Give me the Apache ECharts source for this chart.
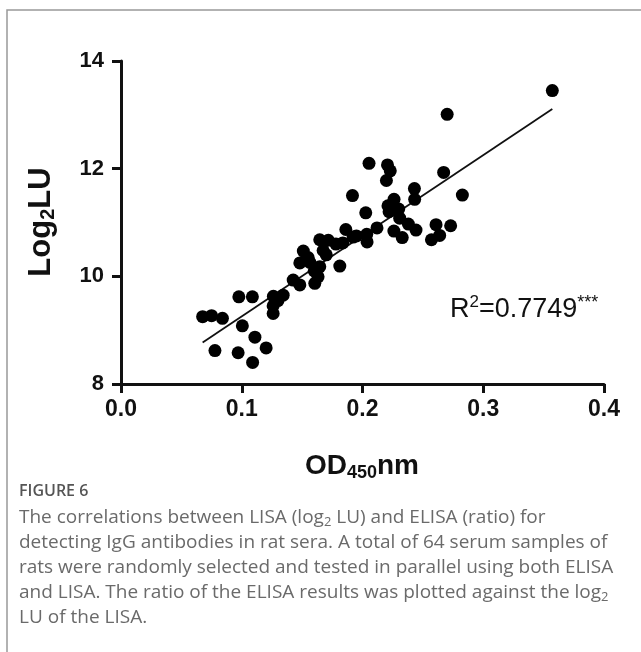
<!DOCTYPE html>
<html>
<head>
<meta charset="utf-8">
<script src="https://cdn.jsdelivr.net/npm/echarts@6/dist/echarts.min.js"></script>
<style>
  html, body { margin: 0; padding: 0; background: #fff; }
  #chart { width: 641px; height: 652px; }
</style>
</head>
<body>
<div id="chart"></div>
<script>
// OD450 (ELISA ratio)
const odValues = [
  0.0676, 0.0750, 0.0840, 0.0976, 0.1088, 0.1005, 0.1109, 0.1202, 0.0778, 0.0970,
  0.1090, 0.1262, 0.1343, 0.1260, 0.1260, 0.1426, 0.1481, 0.1605, 0.1510, 0.1481,
  0.1564, 0.1646, 0.1632, 0.1646, 0.1717, 0.1674, 0.1812, 0.1862, 0.1837, 0.1922,
  0.1917, 0.2027, 0.2035, 0.2038, 0.2054, 0.2207, 0.2230, 0.2198, 0.2672, 0.2701,
  0.3572, 0.2430, 0.2432, 0.2827, 0.2261, 0.2211, 0.2220, 0.2308, 0.2380, 0.2443,
  0.2260, 0.2329, 0.2609, 0.2730, 0.2639, 0.2571, 0.1550, 0.1700, 0.1600, 0.1780,
  0.2300, 0.1300, 0.2120, 0.1950
]
// log2 LU (LISA)
const luValues = [
  9.25, 9.27, 9.22, 9.62, 9.62, 9.08, 8.87, 8.67, 8.62, 8.58,
  8.40, 9.63, 9.65, 9.45, 9.31, 9.93, 9.84, 9.87, 10.47, 10.25,
  10.26, 10.18, 9.99, 10.68, 10.67, 10.48, 10.19, 10.87, 10.62, 10.73,
  11.50, 11.18, 10.78, 10.64, 12.10, 12.07, 11.96, 11.78, 11.93, 13.01,
  13.45, 11.63, 11.43, 11.51, 11.43, 11.31, 11.20, 11.08, 10.97, 10.86,
  10.84, 10.72, 10.96, 10.94, 10.76, 10.68, 10.35, 10.40, 10.10, 10.60,
  11.25, 9.55, 10.90, 10.75
]
// regression line ends
const fitX = [0.0676, 0.3572]
const fitY = [8.77, 13.11]

const xTicks = ['0.0', '0.1', '0.2', '0.3', '0.4']
const yTicks = ['8', '10', '12', '14']

const captionTitle = 'FIGURE 6'
const captionLines = [
  'The correlations between LISA (log{s|2} LU) and ELISA (ratio) for',
  'detecting IgG antibodies in rat sera. A total of 64 serum samples of',
  'rats were randomly selected and tested in parallel using both ELISA',
  'and LISA. The ratio of the ELISA results was plotted against the log{s|2}',
  'LU of the LISA.'
]

const chart = echarts.init(document.getElementById('chart'))

const sans = 'Liberation Sans, Arial, sans-serif'
const capFont = '"Open Sans", sans-serif'

const captionGraphics = captionLines.map((line, i) => ({
  type: 'text',
  left: 19,
  top: 508 + i * 25,
  style: {
    text: '{t|' + line.replace(/\{s\|2\}/g, '}{s|2}{t|') + '}',
    rich: {
      t: { fontSize: 19, fontFamily: capFont, fill: '#6a6a6a', lineHeight: 23 },
      s: { fontSize: 13, fontFamily: capFont, fill: '#6a6a6a', lineHeight: 23, verticalAlign: 'bottom', padding: [7, 0, 0, 0] }
    }
  }
}))

const nameRich = (size) => ({
  a: { fontSize: size, fontWeight: 'bold', fontFamily: sans, fill: '#111', lineHeight: size + 4 },
  s: { fontSize: Math.round(size * 0.64), fontWeight: 'bold', fontFamily: sans, fill: '#111', lineHeight: size + 4, verticalAlign: 'bottom', padding: [Math.round(size * 0.36), 0, 0, 0] }
})

const option = {
  animation: false,
  grid: { left: 121, right: 37, top: 61, bottom: 268 },
  xAxis: {
    type: 'value',
    min: 0,
    max: 0.4,
    interval: 0.1,
    axisLine: { show: true, lineStyle: { color: '#111', width: 3 } },
    axisTick: { show: true, length: 9, lineStyle: { color: '#111', width: 3 } },
    axisLabel: {
      fontFamily: sans, fontWeight: 'bold', fontSize: 23, color: '#111',
      margin: 14,
      formatter: (v) => xTicks[Math.round(v * 10)]
    },
    splitLine: { show: false }
  },
  yAxis: {
    type: 'value',
    min: 8,
    max: 14,
    interval: 2,
    axisLine: { show: true, lineStyle: { color: '#111', width: 3 } },
    axisTick: { show: true, length: 9, lineStyle: { color: '#111', width: 3 } },
    axisLabel: {
      fontFamily: sans, fontWeight: 'bold', fontSize: 22, color: '#111',
      margin: 17,
      formatter: (v) => yTicks[(v - 8) / 2]
    },
    splitLine: { show: false }
  },
  series: [
    {
      type: 'scatter',
      data: odValues.map((x, i) => [x, luValues[i]]),
      symbol: 'circle',
      symbolSize: 13,
      itemStyle: { color: '#000', opacity: 1 },
      z: 3
    },
    {
      type: 'line',
      data: fitX.map((x, i) => [x, fitY[i]]),
      symbol: 'none',
      lineStyle: { color: '#111', width: 1.8 },
      z: 2
    }
  ],
  graphic: [
    // outer frame (left and top edges only visible)
    {
      type: 'polyline',
      shape: { points: [[7, 652], [7, 10], [641, 10]] },
      style: { stroke: '#999', lineWidth: 1.5, fill: null }
    },
    {
      type: 'text',
      x: 41,
      y: 222,
      rotation: Math.PI / 2,
      style: { text: '{a|Log}{s|2}{a|LU}', align: 'center', verticalAlign: 'middle', rich: nameRich(31) }
    },
    {
      type: 'text',
      x: 362,
      y: 466,
      style: { text: '{a|OD}{s|450}{a|nm}', align: 'center', verticalAlign: 'middle', rich: nameRich(28) }
    },
    {
      type: 'text',
      x: 450,
      y: 310,
      style: {
        text: '{a|R}{p|2}{a|=0.7749}{q|***}',
        verticalAlign: 'middle',
        rich: {
          a: { fontSize: 27, fontFamily: sans, fill: '#111', lineHeight: 32 },
          p: { fontSize: 17, fontFamily: sans, fill: '#111', lineHeight: 32, verticalAlign: 'top', padding: [0, 0, 12, 0] },
          q: { fontSize: 18, fontFamily: sans, fill: '#111', lineHeight: 32, verticalAlign: 'top', padding: [0, 0, 8, 0] }
        }
      }
    },
    {
      type: 'text',
      left: 19,
      top: 483,
      style: { text: captionTitle, fontSize: 16, fontFamily: capFont, fill: '#555', fontWeight: 600 }
    },
    ...captionGraphics
  ]
}

chart.setOption(option)
window.addEventListener('resize', () => chart.resize())
</script>
</body>
</html>
